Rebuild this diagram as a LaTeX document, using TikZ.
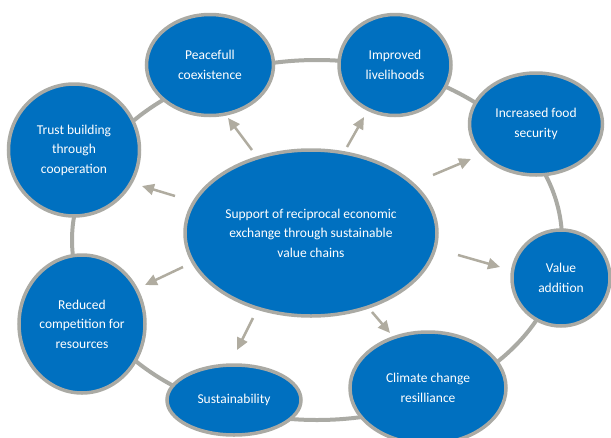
\documentclass[tikz,border=0pt]{standalone}
\usepackage{fontspec}
\setmainfont{Carlito}
\usetikzlibrary{shapes.geometric,arrows.meta}
\definecolor{nodeblue}{RGB}{0,112,192}
\definecolor{ringgray}{RGB}{170,170,164}
\definecolor{arrowgray}{RGB}{176,172,160}
\tikzset{
  bub/.style={ellipse, fill=nodeblue, draw=ringgray, line width=3.5pt, text=white, align=center, inner sep=0pt,
    font=\fontsize{13.5}{19.5}\selectfont},
  ring/.style={draw=ringgray, line width=4pt},
  arr/.style={draw=arrowgray, line width=2.5pt, -{Triangle[length=12pt,width=11pt]}}
}
\begin{document}
\begin{tikzpicture}[x=1pt,y=-1pt]
\useasboundingbox (0,0) rectangle (611,437);
\draw[ring] (317,240) ellipse [x radius=245, y radius=180];
\node[bub, minimum width=127pt, minimum height=101pt] (peace) at (210,65) {Peacefull\\coexistence};
\node[bub, minimum width=112pt, minimum height=101pt] (impr) at (395,65) {Improved\\livelihoods};
\node[bub, minimum width=133pt, minimum height=102pt] (food) at (536,124) {Increased food\\security};
\node[bub, minimum width=131pt, minimum height=132pt] (trust) at (74,150) {Trust building\\through\\cooperation};
\node[bub, minimum width=252pt, minimum height=166pt] (center) at (311,233) {Support of reciprocal economic\\exchange through sustainable\\value chains};
\node[bub, minimum width=98pt, minimum height=96pt] (value) at (561,278) {Value\\addition};
\node[bub, minimum width=156pt, minimum height=112pt] (climate) at (428,388) {Climate change\\resilliance};
\node[bub, minimum width=126pt, minimum height=138pt] (reduced) at (82,324) {Reduced\\competition for\\resources};
\node[bub, minimum width=134pt, minimum height=70pt] (sustain) at (234,400) {Sustainability};
\coordinate (a1s) at (175,196); \coordinate (a1e) at (142,186);
\coordinate (a2s) at (252,150); \coordinate (a2e) at (228,118);
\coordinate (a3s) at (347,147); \coordinate (a3e) at (364,117);
\coordinate (a4s) at (433,175); \coordinate (a4e) at (471,159);
\coordinate (a5s) at (458,255); \coordinate (a5e) at (500,267);
\coordinate (a6s) at (372,312); \coordinate (a6e) at (390,333);
\coordinate (a7s) at (253,318); \coordinate (a7e) at (237,350);
\coordinate (a8s) at (183,267); \coordinate (a8e) at (145,285);
\foreach \i in {1,...,8} {\draw[arr] (a\i s) -- (a\i e);}
\end{tikzpicture}
\end{document}
